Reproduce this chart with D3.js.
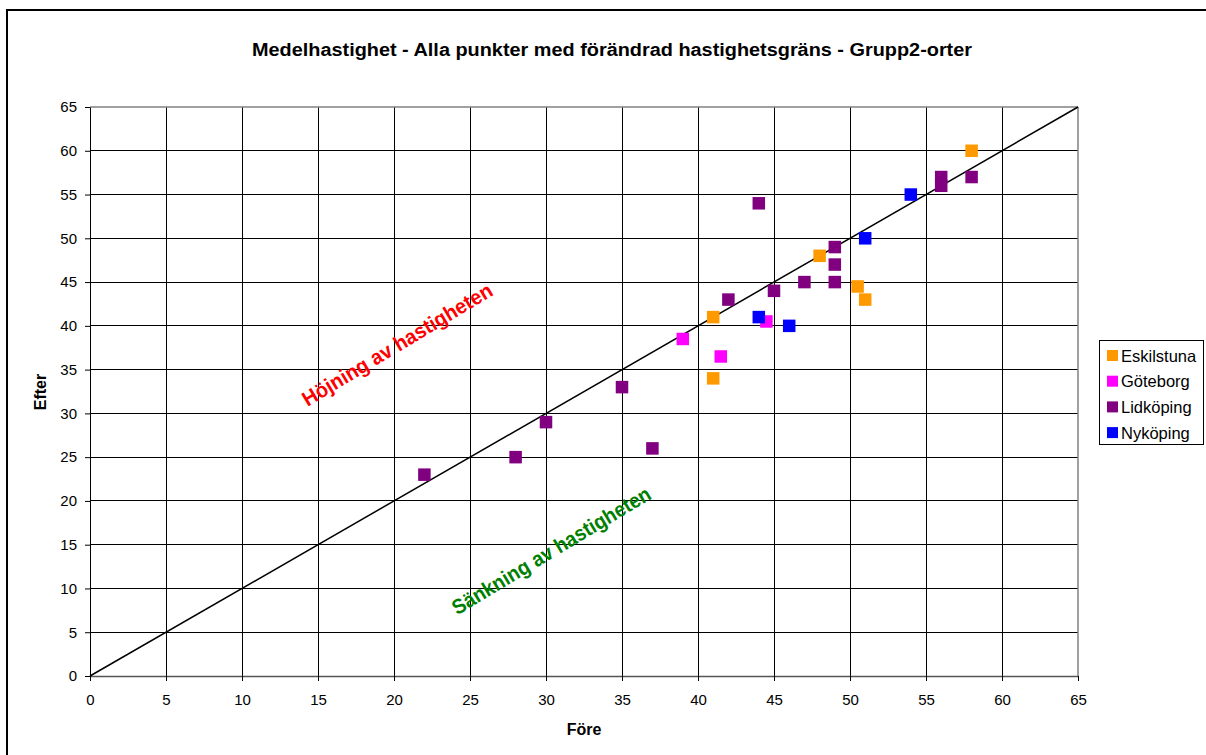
<!DOCTYPE html>
<html><head><meta charset="utf-8">
<script src="https://cdn.jsdelivr.net/npm/d3@7"></script>
<style>body{margin:0;background:#fff;} text{font-family:"Liberation Sans",Arial,sans-serif;}</style>
</head><body><svg id="c" width="1206" height="755"></svg>
<script>
const series = ["Eskilstuna","Göteborg","Lidköping","Nyköping"];
const colors = ["#FF9900","#FF00FF","#800080","#0000FF"];
const eskilstuna = [[58,60],[48,48],[41,41],[41,34],[50.5,44.5],[51,43]];
const goteborg = [[39,38.5],[41.5,36.5],[44.5,40.5]];
const lidkoping = [[22,23],[28,25],[30,29],[35,33],[37,26],[42,43],[44,54],[45,44],[47,45],[49,49],[49,47],[49,45],[56,57],[56,56],[58,57]];
const nykoping = [[54,55],[51,50],[44,41],[46,40]];
const xTicks = d3.range(0,66,5);
const yTicks = d3.range(0,66,5);
const data = [eskilstuna, goteborg, lidkoping, nykoping];
const FF = "'Liberation Sans',Arial,sans-serif";

const svg = d3.select("#c");
svg.append("rect").attr("x",7).attr("y",10).attr("width",1300).attr("height",900)
  .attr("fill","#fff").attr("stroke","#000").attr("stroke-width",2);

const x = d3.scaleLinear().domain([0,65]).range([90,1078]);
const y = d3.scaleLinear().domain([0,65]).range([676,107]);

// grid
svg.append("g").selectAll("line").data(xTicks.slice(1,-1)).join("line")
  .attr("x1",d=>x(d)).attr("x2",d=>x(d)).attr("y1",y(0)).attr("y2",y(65))
  .attr("stroke","#000").attr("stroke-width",1).attr("shape-rendering","crispEdges");
svg.append("g").selectAll("line").data(yTicks.slice(1,-1)).join("line")
  .attr("x1",x(0)).attr("x2",x(65)).attr("y1",d=>y(d)).attr("y2",d=>y(d))
  .attr("stroke","#000").attr("stroke-width",1).attr("shape-rendering","crispEdges");
svg.append("line").attr("x1",x(0)).attr("x2",x(65)).attr("y1",y(65)).attr("y2",y(65)).attr("stroke","#808080").attr("stroke-width",1.5);
svg.append("line").attr("x1",x(65)).attr("x2",x(65)).attr("y1",y(0)).attr("y2",y(65)).attr("stroke","#808080").attr("stroke-width",1.5);

// axes
const xAxis = d3.axisBottom(x).tickValues(xTicks).tickSize(5).tickPadding(13).tickSizeOuter(0);
const gx = svg.append("g").attr("transform",`translate(0,${y(0)})`).call(xAxis);
gx.select(".domain").attr("stroke","#555").attr("stroke-width",1.5);
gx.selectAll(".tick line").attr("stroke","#000");
gx.selectAll("text").attr("font-size",15).attr("fill","#000").style("font-family",FF);
const yAxis = d3.axisLeft(y).tickValues(yTicks).tickSize(5).tickPadding(8).tickSizeOuter(0);
const gy = svg.append("g").attr("transform",`translate(${x(0)},0)`).call(yAxis);
gy.select(".domain").attr("stroke","#000").attr("stroke-width",1);
gy.selectAll(".tick line").attr("stroke","#000");
gy.selectAll("text").attr("font-size",15).attr("fill","#000").style("font-family",FF);

// diagonal
svg.append("line").attr("x1",x(0)).attr("y1",y(0)).attr("x2",x(65)).attr("y2",y(65))
  .attr("stroke","#000").attr("stroke-width",1.5);

// points
const s = 12.5;
data.forEach((arr,i)=>{
  svg.append("g").selectAll("rect").data(arr).join("rect")
    .attr("x",d=>x(d[0])-s/2).attr("y",d=>y(d[1])-s/2).attr("width",s).attr("height",s)
    .attr("fill",colors[i]);
});

// annotations
svg.append("text").attr("transform","translate(398,346) rotate(-31)").attr("text-anchor","middle")
  .attr("dominant-baseline","middle").attr("font-size",21).attr("font-weight","bold").attr("fill","#FF0000")
  .attr("textLength",218).attr("lengthAdjust","spacingAndGlyphs")
  .text("Höjning av hastigheten");
svg.append("text").attr("transform","translate(552,552) rotate(-31)").attr("text-anchor","middle")
  .attr("dominant-baseline","middle").attr("font-size",21).attr("font-weight","bold").attr("fill","#008000")
  .attr("textLength",228).attr("lengthAdjust","spacingAndGlyphs")
  .text("Sänkning av hastigheten");

// title & labels
svg.append("text").attr("x",612).attr("y",56).attr("text-anchor","middle").attr("font-size",18).attr("font-weight","bold")
  .attr("textLength",720).attr("lengthAdjust","spacingAndGlyphs")
  .text("Medelhastighet - Alla punkter med förändrad hastighetsgräns - Grupp2-orter");
svg.append("text").attr("x",584).attr("y",735).attr("text-anchor","middle").attr("font-size",16).attr("font-weight","bold").text("Före");
svg.append("text").attr("transform","translate(46,392) rotate(-90)").attr("text-anchor","middle").attr("font-size",16).attr("font-weight","bold").text("Efter");

// legend
const lg = svg.append("g");
lg.append("rect").attr("x",1099.5).attr("y",340.5).attr("width",104).attr("height",104).attr("fill","#fff").attr("stroke","#000").attr("stroke-width",1);
series.forEach((n,i)=>{
  const yy = 355.5 + i*25.7;
  lg.append("rect").attr("x",1107).attr("y",yy-5.5).attr("width",11).attr("height",11).attr("fill",colors[i]);
  lg.append("text").attr("x",1121).attr("y",yy).attr("dominant-baseline","central").attr("font-size",16.5).text(n);
});
</script></body></html>
